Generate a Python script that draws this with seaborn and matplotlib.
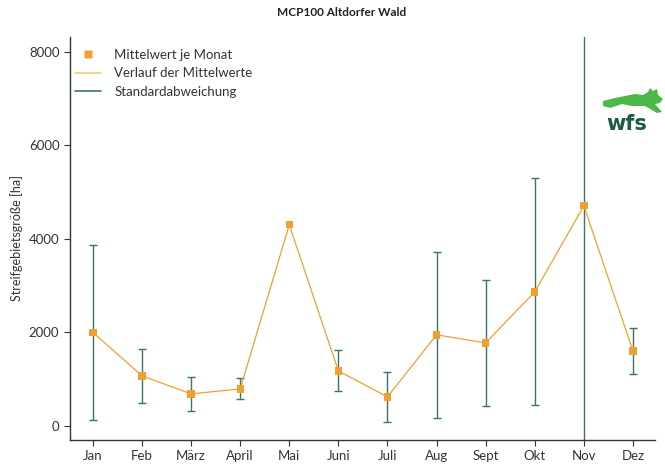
import matplotlib
matplotlib.use("Agg")
import matplotlib.pyplot as plt
import seaborn as sns
import pandas as pd
import numpy as np
from matplotlib.patches import Polygon
from matplotlib.lines import Line2D

months = ["Jan", "Feb", "März", "April", "Mai", "Juni", "Juli", "Aug", "Sept", "Okt", "Nov", "Dez"]
mean_vals = [2000, 1070, 685, 790, 4300, 1176, 620, 1947, 1775, 2866, 4706, 1604]
std_vals = [1870, 580, 365, 225, 0, 440, 535, 1775, 1340, 2430, 5600, 490]

sns.set_style("ticks")
plt.rcParams['font.family'] = ['Lato', 'DejaVu Sans']

orange = "#F0A030"
green = "#3A7566"
txt = "#333333"

df = pd.DataFrame({"Monat": months, "x": np.arange(len(months)), "Mittelwert": mean_vals, "Std": std_vals})

fig = plt.figure(figsize=(6.65, 4.66), dpi=100)
ax = fig.add_axes([0.105, 0.056, 0.88, 0.865])

eb = df[df["Std"] > 0]
ax.errorbar(eb["x"], eb["Mittelwert"], yerr=eb["Std"], fmt="none", ecolor=green,
            elinewidth=1.0, capsize=3, capthick=1.0, zorder=1)
sns.lineplot(data=df, x="x", y="Mittelwert", ax=ax, color=orange, linewidth=0.9,
             legend=False, zorder=2)
sns.scatterplot(data=df, x="x", y="Mittelwert", ax=ax, color=orange, marker="s", s=28,
                edgecolor="none", legend=False, zorder=3)

ax.set_xlim(-0.47, 11.45)
ax.set_ylim(-300, 8320)
ax.set_xticks(range(len(months)))
ax.set_xticklabels(months)
ax.set_yticks([0, 2000, 4000, 6000, 8000])
ax.set_xlabel("")
ax.set_ylabel("Streifgebietsgröße [ha]", fontsize=9, color=txt)
ax.tick_params(labelsize=9.5, colors=txt, length=4)
for s in ["top", "right"]:
    ax.spines[s].set_visible(False)
for s in ["left", "bottom"]:
    ax.spines[s].set_color("#333333")
    ax.spines[s].set_linewidth(1.0)

handles = [
    Line2D([], [], color=orange, marker="s", linestyle="none", markersize=5.5, markeredgecolor="none"),
    Line2D([], [], color=orange, linewidth=1.2, alpha=0.6),
    Line2D([], [], color=green, linewidth=1.2),
]
labels = ["Mittelwert je Monat", "Verlauf der Mittelwerte", "Standardabweichung"]
leg = ax.legend(handles, labels, loc="upper left", frameon=False, fontsize=9.5,
                bbox_to_anchor=(-0.012, 1.0), handlelength=2.0,
                handletextpad=1.0)
for t in leg.get_texts():
    t.set_color(txt)

fig.suptitle("MCP100 Altdorfer Wald", x=0.513, y=0.985, fontsize=8.5, fontweight="bold", color="#222222")

# logo
fig.text(0.942, 0.712, "wfs", ha="center", va="bottom", fontsize=15, fontweight="bold",
         color="#1D5A4A", family="DejaVu Sans")
hare_px = [(603, 101), (615, 98), (625, 96), (635, 94), (643, 95), (648, 92), (650, 88),
           (653, 91), (657, 89), (658, 95), (663, 99), (660, 103), (655, 104), (662, 112),
           (657, 113), (645, 106), (632, 106), (622, 104), (610, 108), (603, 106)]
hare = [(x / 665, 1 - y / 466) for x, y in hare_px]
fig.patches.append(Polygon(hare, closed=True, transform=fig.transFigure, facecolor="#4CB848",
                           edgecolor="none", figure=fig))

fig.savefig("out.png", dpi=100)
